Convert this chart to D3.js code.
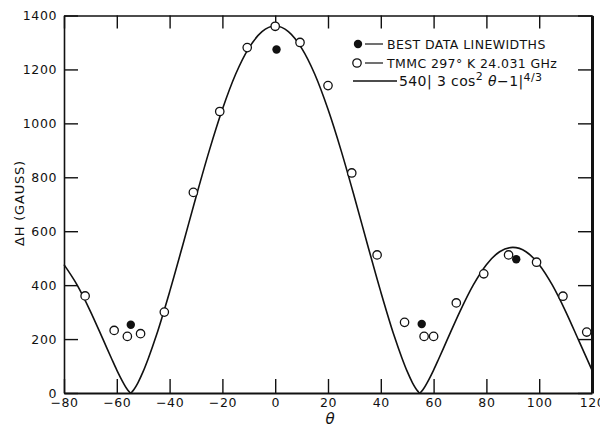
<!DOCTYPE html>
<meta charset="utf-8">
<title>Linewidth vs angle</title>
<style>
  body { margin: 0; background: #fff; }
  text { font-family: "DejaVu Sans", sans-serif; fill: #111; }
</style>
<div id="viz"></div>
<script src="https://cdnjs.cloudflare.com/ajax/libs/d3/7.8.5/d3.min.js"></script>
<script>

// open circles: TMMC 297 K 24.031 GHz
var openTheta = [-72, -61, -56, -51, -42, -31, -21, -10.6, 0, 9.4, 20, 29, 38.6, 49, 56.4, 60, 68.6, 79, 88.4, 99, 109, 118];
var openDH    = [360, 232, 210, 220, 300, 744, 1044, 1281, 1360, 1300, 1140, 816, 512, 262, 210, 210, 334, 442, 512, 485, 359, 226];

// filled circles: best data linewidths
var bestTheta = [-54.7, 0.5, 55.5, 91.3];
var bestDH    = [253, 1274, 256, 496];

// solid curve 540|3cos^2(theta)-1|^(4/3)
var curveTheta = [-80, -75, -70, -65, -62, -60, -58, -56, -54.7, -54, -52, -50, -48, -45, -40, -35, -30, -25, -20, -15, -10, -5, 0,
                  5, 10, 15, 20, 25, 30, 35, 40, 45, 48, 50, 52, 54, 54.7, 56, 58, 60, 62, 65, 70, 75, 80, 85, 90,
                  95, 100, 105, 110, 115, 120];
var curveDH    = [476, 400, 303, 194, 128, 85, 46, 13, 0, 7, 38, 80, 130, 214, 375, 549, 727, 898, 1052, 1182, 1279, 1340, 1361,
                  1340, 1279, 1182, 1052, 898, 727, 549, 375, 214, 130, 80, 38, 7, 0, 13, 46, 85, 128, 194, 303, 400, 476, 524, 540,
                  524, 476, 400, 303, 194, 85];

var xTicks = [-80, -60, -40, -20, 0, 20, 40, 60, 80, 100, 120];
var yTicks = [0, 200, 400, 600, 800, 1000, 1200, 1400];

var width = 600, height = 430;
var padL = 64, padR = 592, padT = 15.5, padB = 393;

var svg = d3.select("#viz").append("svg")
  .attr("width", width)
  .attr("height", height);

var x = d3.scaleLinear().domain([-80, 120]).range([padL, padR]);
var y = d3.scaleLinear().domain([0, 1400]).range([padB, padT]);

// axes, ticks pointing inward on all four sides
var gB = svg.append("g").attr("transform", "translate(0," + padB + ")")
  .call(d3.axisBottom(x).tickValues(xTicks).tickSize(-14).tickSizeOuter(0).tickPadding(5).tickFormat(d3.format("d")));
var gL = svg.append("g").attr("transform", "translate(" + padL + ",0)")
  .call(d3.axisLeft(y).tickValues(yTicks).tickSize(-14).tickSizeOuter(0).tickPadding(7).tickFormat(d3.format("d")));
var gT = svg.append("g").attr("transform", "translate(0," + padT + ")")
  .call(d3.axisTop(x).tickValues(xTicks).tickSize(-13).tickSizeOuter(0).tickFormat(""));
var gR = svg.append("g").attr("transform", "translate(" + padR + ",0)")
  .call(d3.axisRight(y).tickValues(yTicks).tickSize(-14).tickSizeOuter(0).tickFormat(""));

[gB, gL, gT, gR].forEach(function(g) {
  g.selectAll("line").attr("stroke", "#111").attr("stroke-width", 1.4);
  g.select(".domain").attr("stroke", "#111");
  g.selectAll("text").attr("font-size", 12.5).attr("font-family", "DejaVu Sans")
    .attr("letter-spacing", 0.6).attr("fill", "#111");
});
gB.select(".domain").attr("stroke-width", 2.2);
gL.select(".domain").attr("stroke-width", 1.6);
gT.select(".domain").attr("stroke-width", 1.6);
gR.select(".domain").attr("stroke-width", 3);

// axis titles
svg.append("text")
  .attr("transform", "translate(24,203) rotate(-90)")
  .attr("text-anchor", "middle")
  .attr("font-size", 13)
  .attr("letter-spacing", 0.8)
  .text("\u0394H (GAUSS)");

svg.append("text")
  .attr("x", 330).attr("y", 424)
  .attr("text-anchor", "middle")
  .attr("font-size", 15)
  .attr("font-style", "italic")
  .text("\u03b8");

// theory curve
var curvePts = curveTheta.map(function(t, i) { return [t, curveDH[i]]; });
svg.append("path")
  .datum(curvePts)
  .attr("fill", "none")
  .attr("stroke", "#111")
  .attr("stroke-width", 1.6)
  .attr("d", d3.line()
    .x(function(d) { return x(d[0]); })
    .y(function(d) { return y(d[1]); })
    .curve(d3.curveMonotoneX));

// data markers
svg.selectAll("circle.open")
  .data(openTheta)
  .enter().append("circle")
  .attr("class", "open")
  .attr("cx", function(d) { return x(d); })
  .attr("cy", function(d, i) { return y(openDH[i]); })
  .attr("r", 4.2)
  .attr("fill", "#fff")
  .attr("stroke", "#111")
  .attr("stroke-width", 1.3);

svg.selectAll("circle.best")
  .data(bestTheta)
  .enter().append("circle")
  .attr("class", "best")
  .attr("cx", function(d) { return x(d); })
  .attr("cy", function(d, i) { return y(bestDH[i]); })
  .attr("r", 4.2)
  .attr("fill", "#111");

// legend
var lg = svg.append("g");
lg.append("circle").attr("cx", 358).attr("cy", 44).attr("r", 4.2).attr("fill", "#111");
lg.append("line").attr("x1", 365).attr("x2", 383).attr("y1", 44).attr("y2", 44).attr("stroke", "#111").attr("stroke-width", 1.2);
lg.append("text").attr("x", 387).attr("y", 48.5).attr("font-size", 12.5).attr("letter-spacing", 0.4)
  .text("BEST DATA LINEWIDTHS");

lg.append("circle").attr("cx", 357).attr("cy", 63).attr("r", 4.2).attr("fill", "#fff").attr("stroke", "#111").attr("stroke-width", 1.3);
lg.append("line").attr("x1", 365).attr("x2", 383).attr("y1", 63).attr("y2", 63).attr("stroke", "#111").attr("stroke-width", 1.2);
lg.append("text").attr("x", 387).attr("y", 67.5).attr("font-size", 12.5).attr("letter-spacing", 0.4)
  .text("TMMC 297\u00b0 K 24.031 GHz");

lg.append("line").attr("x1", 353).attr("x2", 397).attr("y1", 81).attr("y2", 81).attr("stroke", "#111").attr("stroke-width", 1.6);
var ft = lg.append("text").attr("x", 399).attr("y", 86).attr("font-size", 14).attr("letter-spacing", 0.4);
ft.append("tspan").text("540| 3 cos");
ft.append("tspan").attr("dy", -6).attr("font-size", 11).text("2");
ft.append("tspan").attr("dy", 6).text("  ");
ft.append("tspan").attr("font-style", "italic").text("\u03b8");
ft.append("tspan").text("\u22121|");
ft.append("tspan").attr("dy", -5).attr("font-size", 11).text("4/3");

</script>
